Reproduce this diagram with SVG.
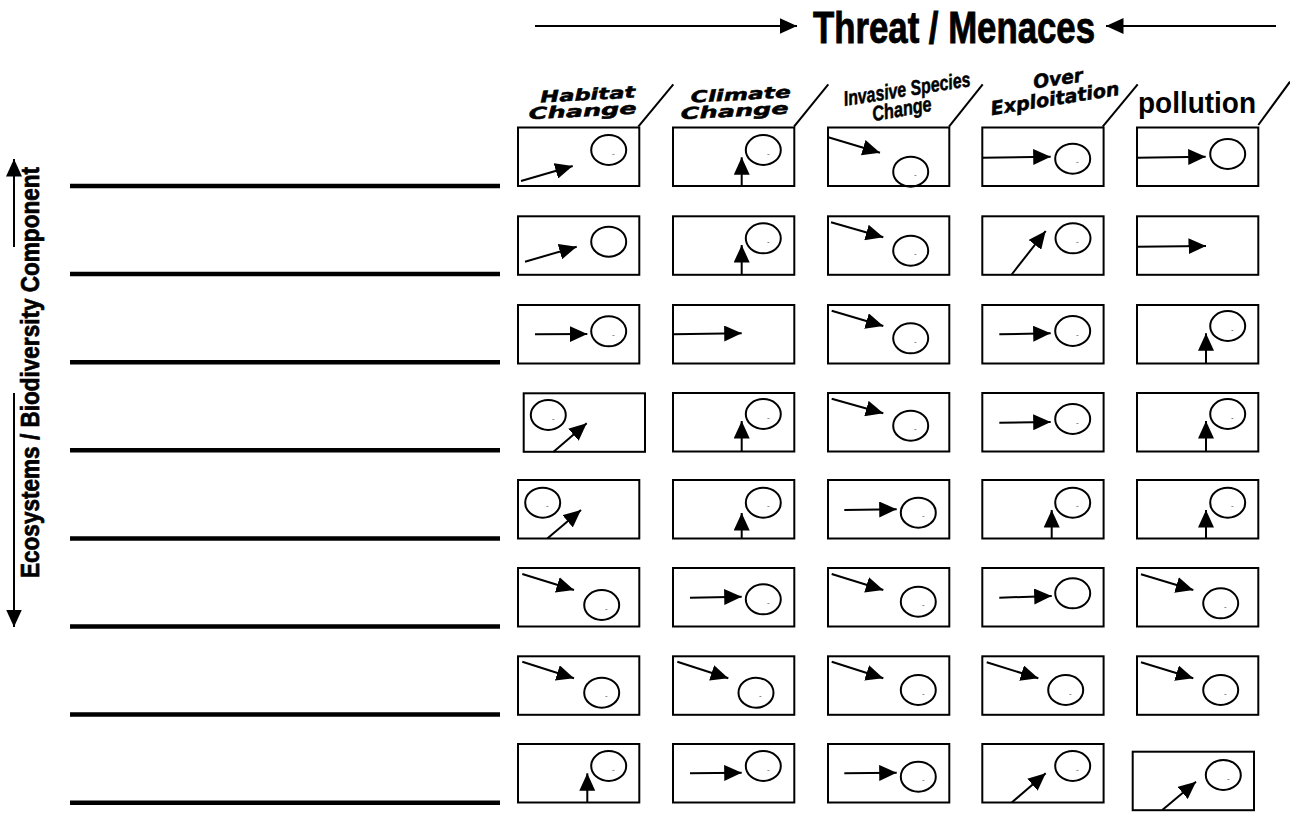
<svg xmlns="http://www.w3.org/2000/svg" width="1290" height="813" viewBox="0 0 1290 813">
<defs>
<marker id="ah" markerUnits="userSpaceOnUse" markerWidth="18" markerHeight="16" refX="17.5" refY="8" orient="auto" viewBox="0 0 18 16">
<path d="M0,0 L17.5,8 L0,16 z" fill="#000"/>
</marker>
</defs>
<style>
.box{fill:#fff;stroke:#000;stroke-width:2}
.ell{fill:none;stroke:#000;stroke-width:2}
.arr{stroke:#000;stroke-width:2;fill:none;marker-end:url(#ah)}
.rule{stroke:#000;stroke-width:4.5}
.sl{stroke:#000;stroke-width:2}
.dash{font-family:"Liberation Sans",Arial,sans-serif;font-size:8px;fill:#444}
.hw{font-family:"DejaVu Sans",sans-serif;font-weight:bold;font-style:italic;font-size:16px;fill:#000;stroke:#000;stroke-width:0.5}
.hn{font-family:"Liberation Sans",Arial,sans-serif;font-weight:bold;font-style:italic;font-size:21px;fill:#000;stroke:#000;stroke-width:0.5}
.ttl{font-family:"Liberation Sans",Arial,sans-serif;font-weight:bold;fill:#000;stroke:#000}
</style>
<rect width="1290" height="813" fill="#fff"/>

<g id="title">
<text class="ttl" style="stroke-width:0.9" x="813" y="43" font-size="45" textLength="282" lengthAdjust="spacingAndGlyphs">Threat / Menaces</text>
</g>

<g id="side-label">
<text class="ttl" style="stroke-width:0.7" font-size="26" transform="translate(38.5,578) rotate(-90)" textLength="411" lengthAdjust="spacingAndGlyphs">Ecosystems / Biodiversity Component</text>
</g>

<g id="rules">
<line class="rule" x1="70" y1="186" x2="500" y2="186"/>
<line class="rule" x1="70" y1="274.1" x2="500" y2="274.1"/>
<line class="rule" x1="70" y1="362.2" x2="500" y2="362.2"/>
<line class="rule" x1="70" y1="450.3" x2="500" y2="450.3"/>
<line class="rule" x1="70" y1="538.4" x2="500" y2="538.4"/>
<line class="rule" x1="70" y1="626.5" x2="500" y2="626.5"/>
<line class="rule" x1="70" y1="714.6" x2="500" y2="714.6"/>
<line class="rule" x1="70" y1="802.7" x2="500" y2="802.7"/>
</g>

<g id="headers">
<line class="sl" x1="638.3" y1="126.7" x2="673.3" y2="84.3"/>
<line class="sl" x1="794" y1="126.7" x2="828.3" y2="84.3"/>
<line class="sl" x1="949" y1="126.7" x2="982.7" y2="84.3"/>
<line class="sl" x1="1102.7" y1="126.7" x2="1137.7" y2="84.3"/>
<line class="sl" x1="1258.3" y1="125" x2="1290" y2="81.7"/>
<g id="h-habitat">
<text class="hw" text-anchor="middle" transform="translate(588,100) rotate(-3)" textLength="95" lengthAdjust="spacingAndGlyphs">Habitat</text>
<text class="hw" text-anchor="middle" transform="translate(583,116.5) rotate(-3)" textLength="108" lengthAdjust="spacingAndGlyphs">Change</text>
</g>
<g id="h-climate">
<text class="hw" text-anchor="middle" transform="translate(741,100) rotate(-3)" textLength="100" lengthAdjust="spacingAndGlyphs">Climate</text>
<text class="hw" text-anchor="middle" transform="translate(735,116.5) rotate(-3)" textLength="108" lengthAdjust="spacingAndGlyphs">Change</text>
</g>
<g id="h-invasive">
<text class="hn" text-anchor="middle" transform="translate(908,96) rotate(-9)" textLength="128" lengthAdjust="spacingAndGlyphs">Invasive Species</text>
<text class="hn" text-anchor="middle" transform="translate(903,116) rotate(-10)" textLength="60" lengthAdjust="spacingAndGlyphs">Change</text>
</g>
<g id="h-over">
<text class="hw" style="font-size:19px" text-anchor="middle" transform="translate(1059,85) rotate(-8)" textLength="50" lengthAdjust="spacingAndGlyphs">Over</text>
<text class="hw" style="font-size:19px" text-anchor="middle" transform="translate(1056,105) rotate(-9)" textLength="130" lengthAdjust="spacingAndGlyphs">Exploitation</text>
</g>
<g id="h-pollution">
<text x="1138" y="113" font-family="Liberation Sans, Arial, sans-serif" font-weight="bold" font-size="29" textLength="118" lengthAdjust="spacingAndGlyphs">pollution</text>
</g>
</g>

<g id="cells">
<g id="r1c1"><rect class="box" x="518" y="127.5" width="121.3" height="58.5"/><ellipse class="ell" cx="608.7" cy="150" rx="17.5" ry="15"/><text class="dash" x="612" y="156">-</text></g>
<g id="r1c2"><rect class="box" x="673" y="127.5" width="121.3" height="58.5"/><ellipse class="ell" cx="763.3" cy="150" rx="17.5" ry="15"/><text class="dash" x="767" y="156">-</text></g>
<g id="r1c3"><rect class="box" x="828" y="127.5" width="121.3" height="58.5"/><ellipse class="ell" cx="910.7" cy="171.7" rx="17.5" ry="15"/><text class="dash" x="914" y="177">-</text></g>
<g id="r1c4"><rect class="box" x="982.3" y="127.5" width="121.3" height="58.5"/><ellipse class="ell" cx="1072.7" cy="158.7" rx="17.5" ry="15"/><text class="dash" x="1076" y="164">-</text></g>
<g id="r1c5"><rect class="box" x="1137" y="127.5" width="121.3" height="58.5"/><ellipse class="ell" cx="1227.7" cy="154" rx="17.5" ry="15"/></g>
<g id="r2c1"><rect class="box" x="518" y="216.3" width="121.3" height="58.5"/><ellipse class="ell" cx="608.7" cy="241.7" rx="17.5" ry="15"/></g>
<g id="r2c2"><rect class="box" x="673" y="216.3" width="121.3" height="58.5"/><ellipse class="ell" cx="763.3" cy="238.3" rx="17.5" ry="15"/><text class="dash" x="767" y="244">-</text></g>
<g id="r2c3"><rect class="box" x="828" y="216.3" width="121.3" height="58.5"/><ellipse class="ell" cx="910.7" cy="250.7" rx="17.5" ry="15"/><text class="dash" x="914" y="256">-</text></g>
<g id="r2c4"><rect class="box" x="982.3" y="216.3" width="121.3" height="58.5"/><ellipse class="ell" cx="1073" cy="238.3" rx="17.5" ry="15"/><text class="dash" x="1076" y="244">-</text></g>
<g id="r2c5"><rect class="box" x="1137" y="216.3" width="121.3" height="58.5"/></g>
<g id="r3c1"><rect class="box" x="518" y="305" width="121.3" height="58.5"/><ellipse class="ell" cx="608.7" cy="331.3" rx="17.5" ry="15"/><text class="dash" x="612" y="337">-</text></g>
<g id="r3c2"><rect class="box" x="673" y="305" width="121.3" height="58.5"/></g>
<g id="r3c3"><rect class="box" x="828" y="305" width="121.3" height="58.5"/><ellipse class="ell" cx="910.7" cy="338.3" rx="17.5" ry="15"/><text class="dash" x="914" y="344">-</text></g>
<g id="r3c4"><rect class="box" x="982.3" y="305" width="121.3" height="58.5"/><ellipse class="ell" cx="1072.7" cy="331" rx="17.5" ry="15"/><text class="dash" x="1076" y="337">-</text></g>
<g id="r3c5"><rect class="box" x="1137" y="305" width="121.3" height="58.5"/><ellipse class="ell" cx="1227.7" cy="326" rx="17.5" ry="15"/><text class="dash" x="1231" y="332">-</text></g>
<g id="r4c1"><rect class="box" x="523.7" y="393.3" width="121.3" height="58.5"/><ellipse class="ell" cx="548.3" cy="415" rx="17.5" ry="15"/><text class="dash" x="552" y="421">-</text></g>
<g id="r4c2"><rect class="box" x="673" y="393" width="121.3" height="58.5"/><ellipse class="ell" cx="763.3" cy="414" rx="17.5" ry="15"/><text class="dash" x="767" y="420">-</text></g>
<g id="r4c3"><rect class="box" x="828" y="393" width="121.3" height="58.5"/><ellipse class="ell" cx="910.7" cy="425.7" rx="17.5" ry="15"/><text class="dash" x="914" y="431">-</text></g>
<g id="r4c4"><rect class="box" x="982.3" y="393" width="121.3" height="58.5"/><ellipse class="ell" cx="1072.7" cy="419" rx="17.5" ry="15"/><text class="dash" x="1076" y="425">-</text></g>
<g id="r4c5"><rect class="box" x="1137" y="393" width="121.3" height="58.5"/><ellipse class="ell" cx="1227.7" cy="414" rx="17.5" ry="15"/><text class="dash" x="1231" y="420">-</text></g>
<g id="r5c1"><rect class="box" x="518" y="480" width="121.3" height="58.5"/><ellipse class="ell" cx="542.7" cy="502.7" rx="17.5" ry="15"/><text class="dash" x="546" y="508">-</text></g>
<g id="r5c2"><rect class="box" x="673" y="480" width="121.3" height="58.5"/><ellipse class="ell" cx="763.3" cy="502.7" rx="17.5" ry="15"/><text class="dash" x="767" y="508">-</text></g>
<g id="r5c3"><rect class="box" x="828" y="480" width="121.3" height="58.5"/><ellipse class="ell" cx="918.3" cy="512.7" rx="17.5" ry="15"/><text class="dash" x="922" y="518">-</text></g>
<g id="r5c4"><rect class="box" x="982.3" y="480" width="121.3" height="58.5"/><ellipse class="ell" cx="1072.7" cy="502.7" rx="17.5" ry="15"/><text class="dash" x="1076" y="508">-</text></g>
<g id="r5c5"><rect class="box" x="1137" y="480" width="121.3" height="58.5"/><ellipse class="ell" cx="1227.7" cy="502.7" rx="17.5" ry="15"/><text class="dash" x="1231" y="508">-</text></g>
<g id="r6c1"><rect class="box" x="518" y="568" width="121.3" height="58.5"/><ellipse class="ell" cx="601.7" cy="605" rx="17.5" ry="15"/><text class="dash" x="605" y="611">-</text></g>
<g id="r6c2"><rect class="box" x="673" y="568" width="121.3" height="58.5"/><ellipse class="ell" cx="763.3" cy="599.3" rx="17.5" ry="15"/><text class="dash" x="767" y="605">-</text></g>
<g id="r6c3"><rect class="box" x="828" y="568" width="121.3" height="58.5"/><ellipse class="ell" cx="918.3" cy="601.7" rx="17.5" ry="15"/><text class="dash" x="922" y="607">-</text></g>
<g id="r6c4"><rect class="box" x="982.3" y="568" width="121.3" height="58.5"/><ellipse class="ell" cx="1072.7" cy="593.3" rx="17.5" ry="15"/></g>
<g id="r6c5"><rect class="box" x="1137" y="568" width="121.3" height="58.5"/><ellipse class="ell" cx="1220.7" cy="603.3" rx="17.5" ry="15"/><text class="dash" x="1224" y="609">-</text></g>
<g id="r7c1"><rect class="box" x="518" y="656.3" width="121.3" height="58.5"/><ellipse class="ell" cx="601.7" cy="692.7" rx="17.5" ry="15"/><text class="dash" x="605" y="698">-</text></g>
<g id="r7c2"><rect class="box" x="673" y="656.3" width="121.3" height="58.5"/><ellipse class="ell" cx="756" cy="692.7" rx="17.5" ry="15"/><text class="dash" x="759" y="698">-</text></g>
<g id="r7c3"><rect class="box" x="828" y="656.3" width="121.3" height="58.5"/><ellipse class="ell" cx="918.3" cy="690" rx="17.5" ry="15"/><text class="dash" x="922" y="696">-</text></g>
<g id="r7c4"><rect class="box" x="982.3" y="656.3" width="121.3" height="58.5"/><ellipse class="ell" cx="1065.7" cy="690" rx="17.5" ry="15"/><text class="dash" x="1069" y="696">-</text></g>
<g id="r7c5"><rect class="box" x="1137" y="656.3" width="121.3" height="58.5"/><ellipse class="ell" cx="1220.7" cy="690" rx="17.5" ry="15"/><text class="dash" x="1224" y="696">-</text></g>
<g id="r8c1"><rect class="box" x="518" y="744" width="121.3" height="58.5"/><ellipse class="ell" cx="608.7" cy="766" rx="17.5" ry="15"/><text class="dash" x="612" y="772">-</text></g>
<g id="r8c2"><rect class="box" x="673" y="744" width="121.3" height="58.5"/><ellipse class="ell" cx="763.3" cy="766" rx="17.5" ry="15"/><text class="dash" x="767" y="772">-</text></g>
<g id="r8c3"><rect class="box" x="828" y="744" width="121.3" height="58.5"/><ellipse class="ell" cx="918.3" cy="776.7" rx="17.5" ry="15"/><text class="dash" x="922" y="782">-</text></g>
<g id="r8c4"><rect class="box" x="982.3" y="744" width="121.3" height="58.5"/><ellipse class="ell" cx="1072.7" cy="766" rx="17.5" ry="15"/><text class="dash" x="1076" y="772">-</text></g>
<g id="r8c5"><rect class="box" x="1132.7" y="751.7" width="121.3" height="58.5"/><ellipse class="ell" cx="1223.3" cy="775" rx="17.5" ry="15"/><text class="dash" x="1227" y="781">-</text></g>
</g>

<g id="connectors">
<line class="arr" x1="535" y1="26" x2="797" y2="26"/>
<line class="arr" x1="1276" y1="26" x2="1106" y2="26"/>
<line class="arr" x1="14" y1="247" x2="14" y2="159"/>
<line class="arr" x1="14" y1="393" x2="14" y2="627"/>
<line class="arr" x1="521" y1="181" x2="572.7" y2="166"/>
<line class="arr" x1="741.7" y1="186.5" x2="741.7" y2="157.3"/>
<line class="arr" x1="828.3" y1="137.3" x2="880" y2="152.7"/>
<line class="arr" x1="982.3" y1="157.7" x2="1050.7" y2="156.7"/>
<line class="arr" x1="1137" y1="157.7" x2="1205.7" y2="156.7"/>
<line class="arr" x1="525" y1="261.7" x2="576.7" y2="246.7"/>
<line class="arr" x1="741.7" y1="275" x2="741.7" y2="245"/>
<line class="arr" x1="831" y1="222.3" x2="883.3" y2="237.3"/>
<line class="arr" x1="1011.7" y1="274.5" x2="1045.7" y2="231"/>
<line class="arr" x1="1137" y1="246.7" x2="1206" y2="246"/>
<line class="arr" x1="535" y1="334.3" x2="587.3" y2="334"/>
<line class="arr" x1="673" y1="334.3" x2="741.7" y2="333.3"/>
<line class="arr" x1="831.7" y1="310.7" x2="883.3" y2="326"/>
<line class="arr" x1="999.3" y1="334.3" x2="1050.7" y2="333.3"/>
<line class="arr" x1="1206" y1="363.5" x2="1206" y2="333.3"/>
<line class="arr" x1="553.3" y1="452" x2="586.7" y2="423.3"/>
<line class="arr" x1="741.7" y1="451.5" x2="741.7" y2="421"/>
<line class="arr" x1="831.7" y1="398.7" x2="883.3" y2="413.3"/>
<line class="arr" x1="999.3" y1="422.7" x2="1050.7" y2="422"/>
<line class="arr" x1="1206" y1="451.5" x2="1206" y2="421"/>
<line class="arr" x1="547.3" y1="538.5" x2="581" y2="510"/>
<line class="arr" x1="741.7" y1="538.5" x2="741.7" y2="513"/>
<line class="arr" x1="844.3" y1="510" x2="896.7" y2="509.3"/>
<line class="arr" x1="1051.7" y1="538.5" x2="1051.7" y2="510"/>
<line class="arr" x1="1206" y1="538.5" x2="1206" y2="510"/>
<line class="arr" x1="522.3" y1="574" x2="574" y2="590"/>
<line class="arr" x1="690" y1="597.7" x2="741.7" y2="596.7"/>
<line class="arr" x1="831.7" y1="574" x2="883.3" y2="590"/>
<line class="arr" x1="999.3" y1="597.7" x2="1051.7" y2="596"/>
<line class="arr" x1="1141" y1="574.3" x2="1193.3" y2="590"/>
<line class="arr" x1="522.3" y1="661.7" x2="574" y2="678.3"/>
<line class="arr" x1="677.3" y1="661.7" x2="728.3" y2="678.3"/>
<line class="arr" x1="831.7" y1="661.7" x2="883.3" y2="678.3"/>
<line class="arr" x1="986.7" y1="662.3" x2="1038.3" y2="678.3"/>
<line class="arr" x1="1141" y1="662.3" x2="1193.3" y2="678.3"/>
<line class="arr" x1="587.3" y1="802.5" x2="587.3" y2="773.3"/>
<line class="arr" x1="690" y1="773.3" x2="741.7" y2="772.7"/>
<line class="arr" x1="844.3" y1="773.3" x2="896.7" y2="772.7"/>
<line class="arr" x1="1011.7" y1="802.5" x2="1045.7" y2="773.3"/>
<line class="arr" x1="1162.3" y1="810" x2="1196" y2="781.7"/>
</g>
</svg>
